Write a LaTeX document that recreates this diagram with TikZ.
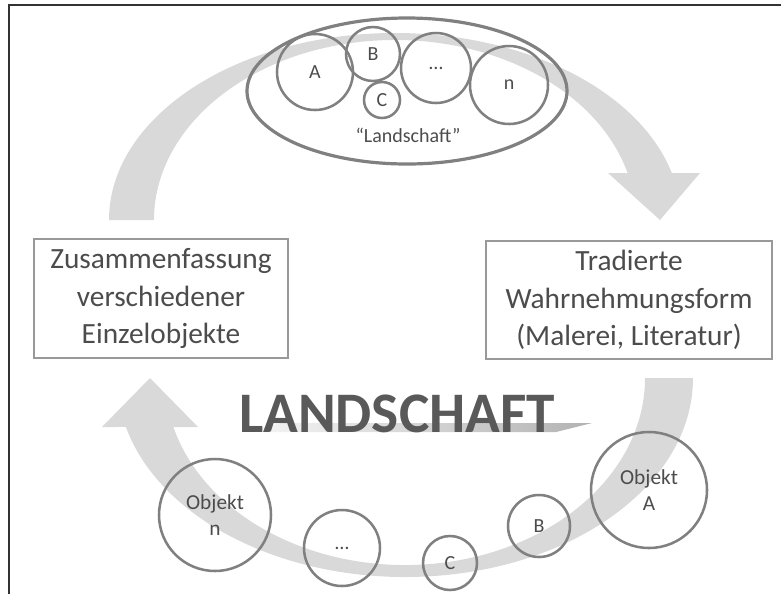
\documentclass[tikz,border=0pt]{standalone}
\usepackage{fontspec}
\setmainfont{Carlito}
\usetikzlibrary{shapes.geometric}
\tikzset{
  ring/.style={circle, draw=black!50, line width=1.9pt, inner sep=0pt, text=black!70, font=\fontsize{15}{17}\selectfont},
  bigring/.style={ring, align=center, font=\fontsize{16}{19.5}\selectfont},
  textbox/.style={draw=black!40, line width=0.8pt, fill=white, align=center, text=black!70, font=\fontsize{22}{28}\selectfont},
  band/.style={fill=black!15}
}

\begin{document}
\begin{tikzpicture}[x=0.75pt, y=-0.75pt]
			%%%%% START %%%%%
			\useasboundingbox (0,0) rectangle (781,594);
			\draw[line width=1.2pt, color=black!80] (9,594) -- (9,5) -- (781,5);
			
			% bands
			\fill[band] (109,220) arc[start angle=180, end angle=345.44, x radius=286, y radius=187] -- (700,173) -- (660,220) -- (608,173) -- (627.6,173) arc[start angle=344.86, end angle=180, x radius=241, y radius=180] -- cycle;
			\fill[band] (693,378) arc[start angle=0, end angle=165.75, x radius=288, y radius=199] -- (102,427) -- (150,378) -- (198,427) -- (173.4,427) arc[start angle=164.81, end angle=0, x radius=240, y radius=187] -- cycle;
			
			% top group
			\node[ellipse, draw=black!50, line width=2.4pt, minimum width=240pt, minimum height=109.5pt] (group) at (407,91) {};
			\node[ring, minimum size=57pt] (tA) at (315,72) {A};
			\node[ring, minimum size=40.5pt] (tB) at (373,54) {B};
			\node[ring, minimum size=27pt] (tC) at (382,100) {C};
			\node[ring, minimum size=52.5pt] (tDots) at (436,68) {…};
			\node[ring, minimum size=58.5pt] (tN) at (509,85) {n};
			\node[text=black!70, font=\fontsize{15}{17}\selectfont] (glabel) at (408,135) {“Landschaft”};
			
			% bottom objects
			\node[bigring, minimum size=87pt] (oA) at (649,490) {Objekt\\A};
			\node[ring, minimum size=46.5pt] (oB) at (539,526) {B};
			\node[ring, minimum size=40.5pt] (oC) at (450,563) {C};
			\node[ring, minimum size=57pt] (oDots) at (342,548) {…};
			\node[bigring, minimum size=84pt] (oN) at (215,515) {Objekt\\n};
			
			% boxes
			\node[textbox, minimum width=190.5pt, minimum height=89.25pt] (merge) at (161,298.5) {Zusammenfassung\\verschiedener\\Einzelobjekte};
			\node[textbox, minimum width=214.5pt, minimum height=88.5pt] (tradition) at (629,300) {Tradierte\\Wahrnehmungsform\\(Malerei, Literatur)};
			
			% title with its shadow
			\shade[left color=black!3, right color=black!30] (245,432) -- (556,432) -- (592,423) -- (281,423) -- cycle;
			\node[anchor=base, inner sep=0pt, font=\fontsize{43}{43}\selectfont\bfseries, text=black!65] (title) at (397,432) {LANDSCHAFT};
			%%%%% END %%%%%
\end{tikzpicture}
\end{document}
